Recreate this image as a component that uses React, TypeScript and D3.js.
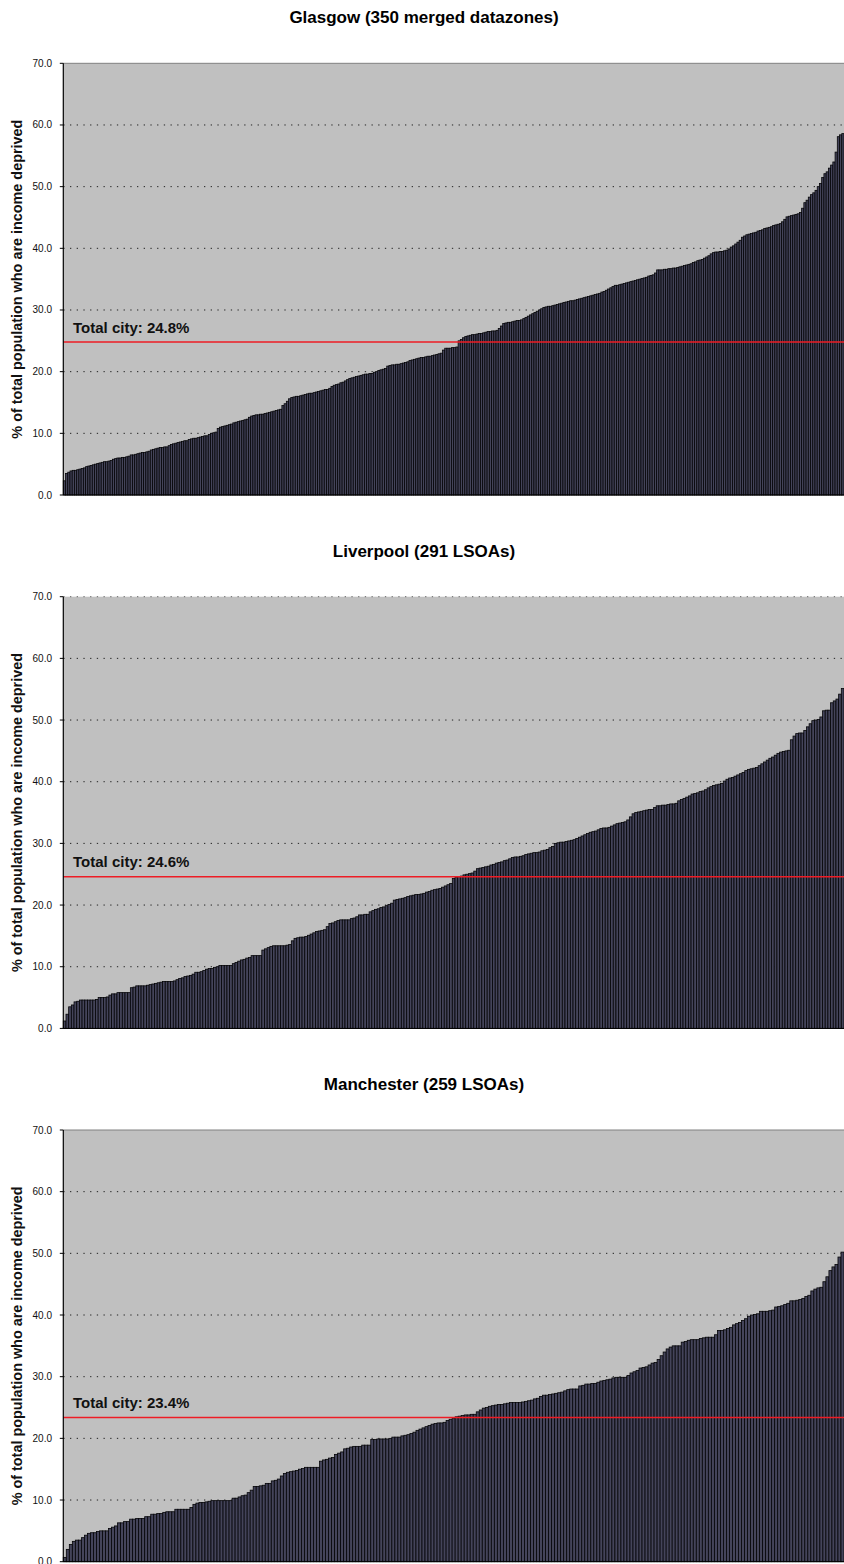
import React from "react";
import * as d3 from "d3";

const glasgow = [
  2.3, 3.5, 3.7, 3.9, 4.0, 4.0, 4.1, 4.2, 4.3, 4.4,
  4.6, 4.7, 4.8, 4.9, 5.0, 5.1, 5.2, 5.3, 5.4, 5.4,
  5.5, 5.6, 5.8, 5.9, 6.0, 6.0, 6.1, 6.1, 6.2, 6.3,
  6.5, 6.5, 6.6, 6.7, 6.8, 6.9, 6.9, 7.0, 7.1, 7.3,
  7.4, 7.5, 7.6, 7.7, 7.7, 7.8, 7.8, 8.0, 8.2, 8.3,
  8.4, 8.5, 8.6, 8.7, 8.8, 8.8, 9.0, 9.1, 9.2, 9.2,
  9.3, 9.4, 9.5, 9.6, 9.6, 9.8, 10.0, 10.1, 10.2, 10.8,
  11.0, 11.1, 11.2, 11.3, 11.4, 11.5, 11.7, 11.8, 11.9, 12.0,
  12.1, 12.2, 12.3, 12.6, 12.8, 12.9, 13.0, 13.0, 13.1, 13.1,
  13.2, 13.3, 13.4, 13.5, 13.6, 13.7, 13.8, 13.9, 14.5, 14.8,
  15.2, 15.6, 15.8, 15.9, 16.0, 16.0, 16.1, 16.2, 16.3, 16.4,
  16.5, 16.5, 16.6, 16.7, 16.8, 16.9, 17.0, 17.1, 17.1, 17.3,
  17.6, 17.8, 17.9, 18.0, 18.2, 18.3, 18.5, 18.7, 18.9, 19.0,
  19.1, 19.2, 19.3, 19.4, 19.5, 19.6, 19.6, 19.7, 19.7, 19.9,
  20.0, 20.2, 20.3, 20.4, 20.5, 20.9, 21.0, 21.1, 21.1, 21.2,
  21.2, 21.3, 21.4, 21.5, 21.6, 21.8, 21.9, 22.0, 22.1, 22.2,
  22.3, 22.3, 22.4, 22.5, 22.5, 22.6, 22.7, 22.8, 22.9, 23.0,
  23.5, 23.8, 23.8, 23.8, 23.9, 23.9, 24.0, 25.0, 25.2, 25.5,
  25.7, 25.8, 25.9, 26.0, 26.0, 26.1, 26.2, 26.2, 26.3, 26.4,
  26.5, 26.5, 26.6, 26.6, 26.7, 27.0, 27.4, 27.8, 27.9, 28.0,
  28.0, 28.1, 28.2, 28.3, 28.3, 28.4, 28.6, 28.8, 29.0, 29.2,
  29.4, 29.6, 29.8, 30.0, 30.2, 30.4, 30.5, 30.6, 30.6, 30.7,
  30.8, 30.9, 31.0, 31.1, 31.2, 31.3, 31.4, 31.5, 31.5, 31.6,
  31.7, 31.8, 31.9, 32.0, 32.1, 32.2, 32.3, 32.4, 32.5, 32.6,
  32.7, 32.9, 33.0, 33.2, 33.4, 33.6, 33.8, 34.0, 34.0, 34.1,
  34.2, 34.3, 34.4, 34.5, 34.6, 34.7, 34.8, 34.9, 35.0, 35.1,
  35.2, 35.3, 35.5, 35.6, 35.7, 36.0, 36.5, 36.5, 36.5, 36.6,
  36.6, 36.7, 36.7, 36.8, 36.8, 36.9, 37.0, 37.1, 37.2, 37.3,
  37.4, 37.5, 37.7, 37.8, 38.0, 38.1, 38.2, 38.4, 38.6, 38.8,
  39.1, 39.3, 39.4, 39.4, 39.5, 39.5, 39.6, 39.7, 39.9, 40.2,
  40.4, 40.7, 41.0, 41.3, 41.8, 42.0, 42.2, 42.3, 42.4, 42.5,
  42.6, 42.8, 42.9, 43.0, 43.2, 43.3, 43.4, 43.5, 43.7, 43.8,
  43.9, 44.0, 44.3, 44.7, 45.1, 45.2, 45.3, 45.4, 45.5, 45.6,
  45.8, 46.5, 47.4, 47.8, 48.3, 48.7, 49.0, 49.4, 50.0, 50.5,
  51.5, 52.1, 52.4, 53.0, 53.5, 54.0, 55.6, 58.1, 58.4, 58.6,
];

const liverpool = [
  1.2, 2.3, 3.5, 3.8, 4.3, 4.4, 4.6, 4.6, 4.6, 4.6,
  4.6, 4.6, 4.7, 5.0, 5.0, 5.0, 5.1, 5.4, 5.6, 5.6,
  5.8, 5.8, 5.8, 5.8, 5.8, 6.6, 6.7, 6.9, 6.9, 6.9,
  6.9, 7.0, 7.1, 7.2, 7.3, 7.4, 7.5, 7.6, 7.6, 7.6,
  7.6, 7.7, 7.9, 8.1, 8.2, 8.4, 8.5, 8.6, 8.8, 9.1,
  9.1, 9.2, 9.4, 9.6, 9.7, 9.7, 9.9, 10.0, 10.2, 10.2,
  10.2, 10.2, 10.2, 10.5, 10.7, 10.9, 11.1, 11.2, 11.4, 11.5,
  11.8, 11.8, 11.8, 11.8, 12.7, 12.9, 13.1, 13.3, 13.4, 13.4,
  13.4, 13.4, 13.4, 13.5, 13.6, 14.2, 14.6, 14.7, 14.8, 14.8,
  14.9, 15.1, 15.3, 15.5, 15.7, 15.8, 15.9, 16.0, 16.5, 17.0,
  17.1, 17.3, 17.5, 17.6, 17.6, 17.6, 17.6, 17.8, 17.9, 18.1,
  18.4, 18.4, 18.5, 18.5, 18.9, 19.1, 19.3, 19.4, 19.6, 19.7,
  19.9, 20.1, 20.3, 20.8, 20.9, 21.0, 21.1, 21.2, 21.4, 21.5,
  21.6, 21.7, 21.7, 21.8, 21.9, 22.1, 22.2, 22.4, 22.5, 22.6,
  22.7, 22.9, 23.1, 23.3, 23.5, 24.3, 24.5, 24.6, 24.7, 24.9,
  25.0, 25.1, 25.2, 25.5, 25.9, 26.0, 26.1, 26.2, 26.3, 26.5,
  26.6, 26.8, 26.9, 27.0, 27.2, 27.3, 27.5, 27.7, 27.8, 27.8,
  27.9, 28.0, 28.2, 28.3, 28.4, 28.5, 28.5, 28.6, 28.8, 28.9,
  29.0, 29.3, 29.5, 30.0, 30.1, 30.2, 30.2, 30.3, 30.4, 30.5,
  30.6, 30.8, 31.0, 31.2, 31.4, 31.6, 31.8, 31.9, 32.0, 32.2,
  32.4, 32.5, 32.5, 32.6, 32.8, 33.0, 33.2, 33.3, 33.4, 33.5,
  33.8, 34.3, 34.8, 35.0, 35.1, 35.2, 35.3, 35.4, 35.5, 35.5,
  35.8, 36.1, 36.1, 36.2, 36.2, 36.3, 36.4, 36.4, 36.5, 36.9,
  37.1, 37.3, 37.5, 37.7, 38.0, 38.1, 38.2, 38.4, 38.5, 38.7,
  39.0, 39.2, 39.4, 39.5, 39.6, 39.7, 40.1, 40.4, 40.6, 40.7,
  40.9, 41.1, 41.3, 41.5, 41.8, 42.0, 42.1, 42.2, 42.3, 42.6,
  42.9, 43.2, 43.5, 43.8, 44.0, 44.3, 44.6, 44.8, 44.9, 45.0,
  45.1, 46.8, 47.4, 47.8, 47.9, 47.9, 48.3, 48.9, 49.4, 49.9,
  50.0, 50.1, 50.5, 51.5, 51.6, 51.6, 52.8, 53.1, 53.4, 54.2,
  55.1,
];

const manchester = [
  0.7, 2.0, 2.8, 3.3, 3.5, 3.5, 3.9, 4.3, 4.6, 4.7,
  4.7, 4.9, 5.0, 5.0, 5.0, 5.4, 5.6, 5.8, 6.3, 6.3,
  6.5, 6.5, 6.9, 6.9, 7.0, 7.0, 7.0, 7.3, 7.3, 7.7,
  7.7, 7.8, 7.8, 8.0, 8.1, 8.1, 8.1, 8.5, 8.5, 8.5,
  8.5, 8.5, 8.8, 9.3, 9.5, 9.6, 9.6, 9.7, 9.8, 9.9,
  9.9, 9.9, 9.9, 9.9, 9.9, 9.9, 10.3, 10.3, 10.5, 10.7,
  10.8, 11.2, 11.6, 12.2, 12.2, 12.3, 12.4, 12.7, 12.7, 13.1,
  13.2, 13.4, 13.9, 14.3, 14.5, 14.6, 14.7, 14.8, 15.0, 15.1,
  15.3, 15.3, 15.3, 15.3, 15.3, 16.3, 16.5, 16.6, 16.8, 16.9,
  17.4, 17.6, 17.8, 18.3, 18.4, 18.6, 18.7, 18.7, 18.7, 18.9,
  18.9, 18.9, 19.8, 19.8, 19.9, 19.9, 19.9, 19.9, 20.0, 20.2,
  20.2, 20.2, 20.4, 20.5, 20.6, 20.8, 21.0, 21.3, 21.5, 21.7,
  21.9, 22.1, 22.3, 22.4, 22.5, 22.5, 22.6, 22.9, 23.1, 23.3,
  23.5, 23.6, 23.7, 23.8, 23.8, 23.9, 23.9, 24.3, 24.6, 24.9,
  25.0, 25.2, 25.3, 25.4, 25.5, 25.5, 25.6, 25.7, 25.8, 25.8,
  25.8, 25.8, 25.9, 26.0, 26.1, 26.2, 26.4, 26.5, 26.8, 27.0,
  27.0, 27.1, 27.2, 27.3, 27.4, 27.5, 27.7, 27.9, 28.0, 28.0,
  28.0, 28.5, 28.6, 28.8, 28.8, 28.9, 28.9, 29.1, 29.3, 29.4,
  29.5, 29.6, 29.8, 29.9, 29.9, 29.9, 29.9, 30.2, 30.6, 30.8,
  31.0, 31.4, 31.5, 31.6, 31.9, 32.2, 32.3, 32.8, 33.4, 34.0,
  34.5, 34.8, 35.0, 35.0, 35.0, 35.6, 35.7, 35.9, 36.0, 36.0,
  36.0, 36.2, 36.3, 36.4, 36.4, 36.4, 36.8, 37.5, 37.5, 37.6,
  37.8, 38.0, 38.4, 38.6, 38.8, 39.1, 39.4, 39.8, 40.0, 40.1,
  40.2, 40.6, 40.6, 40.6, 40.7, 40.8, 41.3, 41.4, 41.5, 41.7,
  41.9, 42.3, 42.3, 42.4, 42.5, 42.7, 43.0, 43.2, 43.9, 44.2,
  44.4, 44.5, 45.4, 46.2, 47.2, 47.8, 48.2, 49.4, 50.2,
];

const titles = ["Glasgow (350 merged datazones)", "Liverpool (291 LSOAs)", "Manchester (259 LSOAs)"];
const cityTotals = [24.8, 24.6, 23.4];
const yTicks = [0, 10, 20, 30, 40, 50, 60, 70];
const yLabel = "% of total population who are income deprived";

const series = [glasgow, liverpool, manchester];
const panelTops = [63.3, 596.7, 1130];
const panelHeight = 431.7;
const topDotted = [false, true, false];

const W = 844;
const H = 1564;
const LEFT = 63.3;
const RIGHT = 844;
const FONT = "Liberation Sans, Arial, Helvetica, sans-serif";

function Panel({ idx }: { idx: number }) {
  const data = series[idx];
  const top = panelTops[idx];
  const bottom = top + panelHeight;
  const x = d3
    .scaleBand<number>()
    .domain(d3.range(data.length))
    .range([LEFT, RIGHT])
    .paddingInner(0)
    .paddingOuter(0);
  const y = d3.scaleLinear().domain([0, 70]).range([bottom, top]);
  const fmt = d3.format(".1f");
  const bw = x.bandwidth();
  const total = cityTotals[idx];
  const midY = (top + bottom) / 2;
  return (
    <g>
      <text
        x={W / 2 + 2}
        y={top - 40}
        textAnchor="middle"
        fontFamily={FONT}
        fontWeight="bold"
        fontSize={17}
        fill="#000"
      >
        {titles[idx]}
      </text>
      <rect x={LEFT} y={top} width={RIGHT - LEFT} height={bottom - top} fill="#c0c0c0" />
      {yTicks
        .filter((t) => t > 0 && t < 70)
        .map((t) => (
          <line
            key={"g" + t}
            x1={LEFT}
            x2={RIGHT}
            y1={y(t)}
            y2={y(t)}
            stroke="#222"
            strokeWidth={1}
            strokeDasharray="1.3 5.4"
          />
        ))}
      {topDotted[idx] ? (
        <line x1={LEFT} x2={RIGHT} y1={top} y2={top} stroke="#666" strokeWidth={1} strokeDasharray="1.3 5.4" />
      ) : (
        <line x1={LEFT} x2={RIGHT} y1={top} y2={top} stroke="#808080" strokeWidth={1} />
      )}
      {data.map((v, i) => (
        <rect
          key={i}
          x={x(i)!}
          y={y(v)}
          width={bw}
          height={y(0) - y(v)}
          fill="#44445a"
          stroke="#050508"
          strokeWidth={0.8}
        />
      ))}
      <line x1={LEFT} x2={RIGHT} y1={y(total)} y2={y(total)} stroke="#ee1c25" strokeWidth={1.5} />
      <text
        x={73}
        y={y(total) - 9.5}
        fontFamily={FONT}
        fontWeight="bold"
        fontSize={15}
        fill="#111"
      >
        {"Total city: " + fmt(total) + "%"}
      </text>
      <line x1={LEFT} x2={LEFT} y1={top} y2={bottom} stroke="#000" strokeWidth={1.2} />
      <line x1={LEFT} x2={RIGHT} y1={bottom} y2={bottom} stroke="#000" strokeWidth={1} />
      {yTicks.map((t) => (
        <g key={"t" + t}>
          <line x1={LEFT - 3.5} x2={LEFT} y1={y(t)} y2={y(t)} stroke="#000" strokeWidth={1} />
          <text
            x={52}
            y={y(t)}
            dy="0.35em"
            textAnchor="end"
            fontFamily={FONT}
            fontSize={10}
            fill="#111"
          >
            {fmt(t)}
          </text>
        </g>
      ))}
      <text
        transform={`translate(22,${midY}) rotate(-90)`}
        textAnchor="middle"
        fontFamily={FONT}
        fontWeight="bold"
        fontSize={14.4}
        fill="#111"
      >
        {yLabel}
      </text>
    </g>
  );
}

export default function App() {
  return (
    <svg
      width={W}
      height={H}
      viewBox={`0 0 ${W} ${H}`}
      style={{ position: "absolute", left: 0, top: 0, background: "#fff" }}
    >
      <rect x={0} y={0} width={W} height={H} fill="#fff" />
      {[0, 1, 2].map((i) => (
        <Panel key={i} idx={i} />
      ))}
    </svg>
  );
}
